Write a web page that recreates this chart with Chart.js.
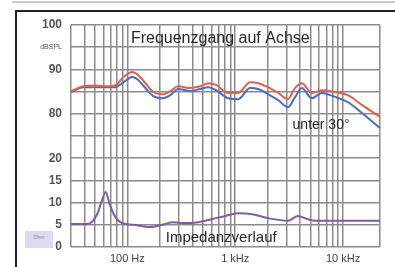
<!DOCTYPE html>
<html>
<head>
<meta charset="utf-8">
<script src="https://cdn.jsdelivr.net/npm/chart.js@4"></script>
<style>
  html, body { margin: 0; padding: 0; background: #fff; overflow: hidden; }
  #wrap { position: relative; width: 395px; height: 267px; overflow: hidden; }
  #ohm { position: absolute; left: 25px; top: 231px; width: 28px; height: 17px; background: #dedbf0;
         font: 5px "Liberation Sans", Arial, sans-serif; color: #7c7cb0; text-align: center; line-height: 12px; }
  canvas { position: absolute; left: 0; top: 0; }
</style>
</head>
<body>
<div id="wrap">
  <canvas id="chart" width="395" height="267"></canvas>
  <div id="ohm">Ohm</div>
</div>
<script>
// frequency response, dB SPL
const freqHz = [30, 39, 50, 62, 77, 92, 111, 126, 147, 174, 215, 250, 296, 383, 474, 563, 667, 860, 1065, 1374, 1632, 2015, 2500, 3088, 3577, 4150, 5130, 6360, 8420, 11100, 14950, 22000];
const splOnAxis = [85.1, 86.2, 86.4, 86.2, 86.4, 88.3, 89.4, 88.7, 86.9, 84.9, 84.4, 85.1, 86.2, 85.8, 86.2, 86.9, 86.5, 84.7, 84.7, 87.1, 86.9, 86.0, 84.7, 83.3, 85.8, 86.9, 84.7, 85.3, 84.9, 84.2, 82.0, 79.3];
const spl30deg = [84.9, 86.0, 86.0, 86.0, 86.0, 87.1, 88.3, 87.6, 85.8, 84.0, 83.5, 84.2, 85.6, 85.1, 85.6, 86.0, 85.3, 83.5, 83.3, 85.8, 85.6, 84.4, 83.1, 81.5, 83.7, 85.8, 83.5, 84.7, 83.8, 82.6, 80.2, 76.8];

// impedance, Ohm
const impFreqHz = [30, 43, 53, 57, 63, 68, 74, 86, 114, 163, 225, 261, 310, 454, 613, 808, 1066, 1438, 2015, 3088, 3812, 4640, 5490, 8420, 22000];
const impedanceOhm = [5.2, 5.2, 7.6, 9.9, 12.4, 9.9, 7.6, 5.6, 5.0, 4.5, 5.2, 5.6, 5.4, 5.6, 6.3, 7.0, 7.6, 7.4, 6.5, 5.9, 7.0, 6.3, 5.9, 5.9, 5.9];

// axes
const xGridValues = [30, 40, 50, 60, 70, 80, 90, 100, 200, 300, 400, 500, 600, 700, 800, 900,
  1000, 2000, 3000, 4000, 5000, 6000, 7000, 8000, 9000, 10000, 22000];
const xLabelValues = [100, 1000, 10000];
const xLabelTexts = ["100 Hz", "1 kHz", "10 kHz"];
const yTickValues = [0, 5, 10, 15, 20, 25, 30, 35, 40, 45, 50];
const yTickLabels = ["0", "5", "10", "15", "20", "", "80", "", "90", "dBSPL", "100"];

const toPoints = (xs, ys) => xs.map((x, i) => ({ x: x, y: ys[i] }));

// page frame of the scanned figure
const frame = {
  id: "frame",
  beforeDraw(chart) {
    const ctx = chart.ctx;
    ctx.save();
    ctx.fillStyle = "#c8c8c8";
    ctx.fillRect(12, 1, chart.width - 12, 2);
    ctx.fillStyle = "#222";
    ctx.fillRect(15, 10, chart.width - 15, 2);
    ctx.fillRect(15, 10, 2, chart.height - 10);
    ctx.restore();
  },
};

const textLabels = {
  id: "textLabels",
  afterDatasetsDraw(chart) {
    const ctx = chart.ctx;
    const x = chart.scales.x;
    const spl = chart.scales.spl;
    const imp = chart.scales.y;
    ctx.save();
    ctx.fillStyle = "#262626";
    ctx.textAlign = "center";
    ctx.textBaseline = "middle";
    ctx.font = "16px 'Liberation Sans', Arial, sans-serif";
    ctx.fillText("Frequenzgang auf Achse", x.getPixelForValue(727), spl.getPixelForValue(97));
    ctx.font = "14px 'Liberation Sans', Arial, sans-serif";
    ctx.fillText("unter 30°", x.getPixelForValue(6250), spl.getPixelForValue(77.5));
    ctx.font = "15px 'Liberation Sans', Arial, sans-serif";
    ctx.fillText("Impedanzverlauf", x.getPixelForValue(741), imp.getPixelForValue(2));
    ctx.restore();
  },
};

new Chart(document.getElementById("chart"), {
  type: "line",
  data: {
    datasets: [
      {
        label: "auf Achse",
        data: toPoints(freqHz, splOnAxis),
        yAxisID: "spl",
        borderColor: "#e0604a",
        borderWidth: 2,
        pointRadius: 0,
        cubicInterpolationMode: "monotone",
      },
      {
        label: "unter 30°",
        data: toPoints(freqHz, spl30deg),
        yAxisID: "spl",
        borderColor: "#4a6cc4",
        borderWidth: 2,
        pointRadius: 0,
        cubicInterpolationMode: "monotone",
      },
      {
        label: "Impedanz",
        data: toPoints(impFreqHz, impedanceOhm),
        yAxisID: "y",
        borderColor: "#7a5ea6",
        borderWidth: 2,
        pointRadius: 0,
        cubicInterpolationMode: "monotone",
      },
    ],
  },
  options: {
    responsive: false,
    animation: false,
    layout: { padding: { top: 25, right: 15, left: 0, bottom: 0 } },
    plugins: { legend: { display: false }, tooltip: { enabled: false } },
    scales: {
      x: {
        type: "logarithmic",
        min: 30,
        max: 22000,
        afterBuildTicks: (scale) => {
          scale.ticks = xGridValues.map((v) => ({ value: v }));
        },
        afterFit: (scale) => {
          scale.height = 20;
        },
        grid: { color: "#8c8c8c", lineWidth: 1.5, drawTicks: false },
        border: { display: false },
        ticks: {
          autoSkip: false,
          maxRotation: 0,
          padding: 5,
          color: "#444",
          font: { family: "'Liberation Sans', Arial, sans-serif", size: 11 },
          callback: (value) => {
            const i = xLabelValues.indexOf(value);
            return i >= 0 ? xLabelTexts[i] : "";
          },
        },
      },
      y: {
        type: "linear",
        min: 0,
        max: 50,
        afterBuildTicks: (scale) => {
          scale.ticks = yTickValues.map((v) => ({ value: v }));
        },
        afterFit: (scale) => {
          scale.width = 71;
        },
        grid: { color: "#8c8c8c", lineWidth: 1.5, drawTicks: false },
        border: { display: false },
        ticks: {
          padding: 9,
          color: "#555",
          font: (c) =>
            c.tick && c.tick.value === 45
              ? { family: "'Liberation Sans', Arial, sans-serif", size: 7 }
              : { family: "'Liberation Sans', Arial, sans-serif", size: 12, weight: "bold" },
          callback: (value) => yTickLabels[yTickValues.indexOf(value)],
        },
      },
      spl: {
        type: "linear",
        min: 50,
        max: 100,
        display: false,
      },
    },
  },
  plugins: [frame, textLabels],
});
</script>
</body>
</html>
